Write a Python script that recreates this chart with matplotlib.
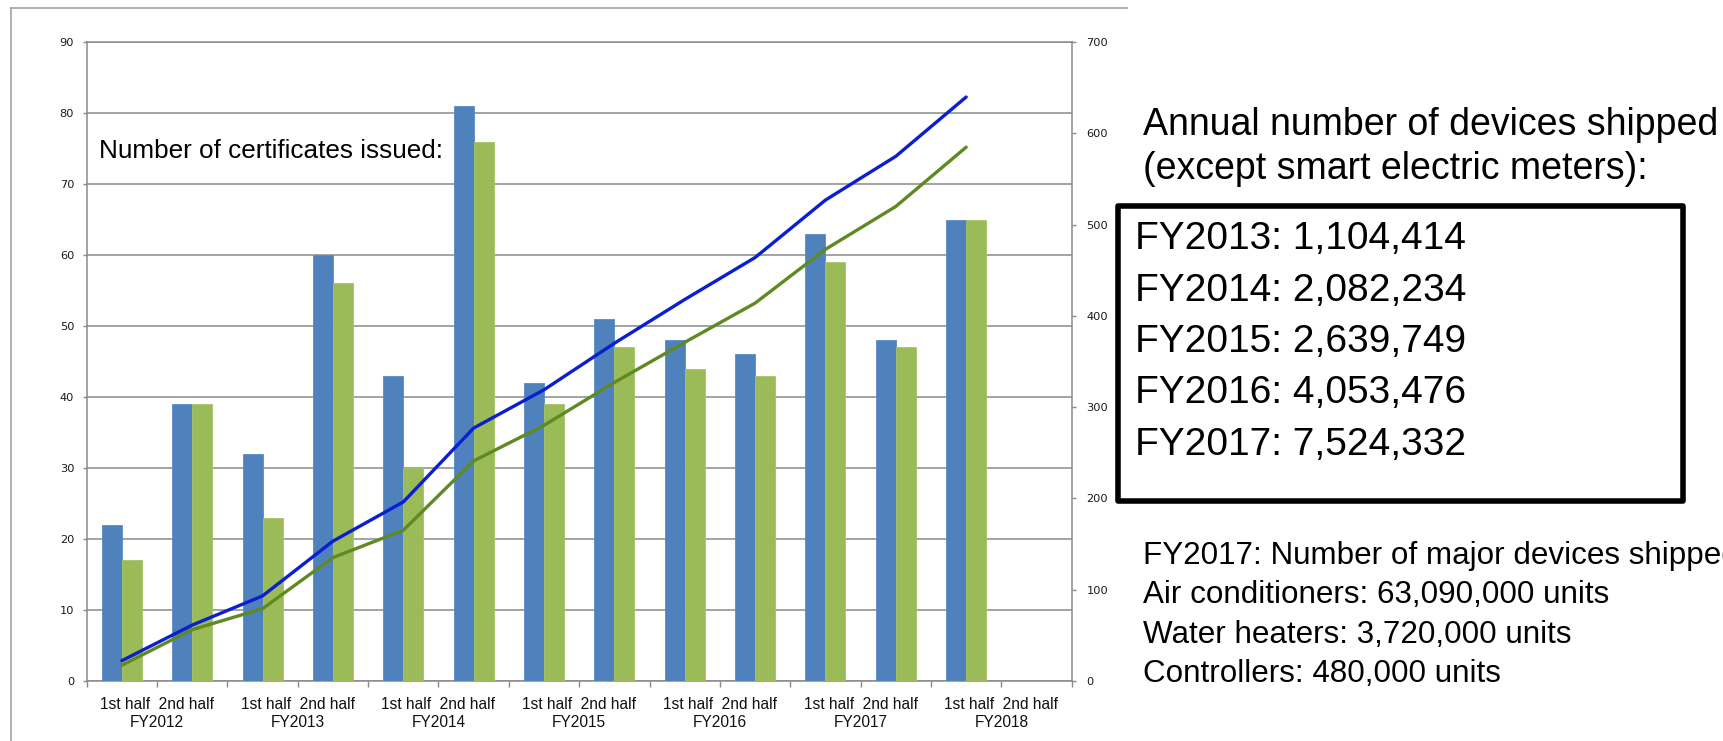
import matplotlib
matplotlib.use("Agg")
import matplotlib.pyplot as plt
from matplotlib.patches import Rectangle
from matplotlib.lines import Line2D
import numpy as np

# ---------------- data ----------------
years = ["FY2012", "FY2013", "FY2014", "FY2015", "FY2016", "FY2017", "FY2018"]
half_label = "1st half  2nd half"
blue_bars = [22, 39, 32, 60, 43, 81, 42, 51, 48, 46, 63, 48, 65]
green_bars = [17, 39, 23, 56, 30, 76, 39, 47, 44, 43, 59, 47, 65]
blue_line = [22, 61, 93, 153, 196, 277, 319, 370, 418, 464, 527, 575, 640]
green_line = [17, 56, 79, 135, 165, 241, 280, 327, 371, 414, 473, 520, 585]
left_ticks = [0, 10, 20, 30, 40, 50, 60, 70, 80, 90]
right_ticks = [0, 100, 200, 300, 400, 500, 600, 700]
chart_note = "Number of certificates issued:"
heading = ["Annual number of devices shipped", "(except smart electric meters):"]
box_lines = ["FY2013: 1,104,414", "FY2014: 2,082,234", "FY2015: 2,639,749",
             "FY2016: 4,053,476", "FY2017: 7,524,332"]
bottom_lines = ["FY2017: Number of major devices shipped",
                "Air conditioners: 63,090,000 units",
                "Water heaters: 3,720,000 units",
                "Controllers: 480,000 units"]

# ---------------- style ----------------
W, H = 1724, 741
def fx(px): return px / W
def fy(py): return 1 - py / H

SANS = ["Liberation Sans", "DejaVu Sans"]
plt.rcParams["font.family"] = SANS
GRID = "#8a8a8a"
BLUE = "#4f81bd"
GREEN = "#9bbb59"
BLUE_L = "#0a1fd0"
GREEN_L = "#5f8a22"

fig = plt.figure(figsize=(W / 100, H / 100), dpi=100)
fig.patch.set_facecolor("white")

x0, x1, y_top, y_bot = 86.7, 1071.7, 42.3, 680.7
ax = fig.add_axes([fx(x0), fy(y_bot), (x1 - x0) / W, (y_bot - y_top) / H])
ax2 = ax.twinx()

n_cat = 14
x = np.arange(len(blue_bars))
bw = 0.284
ax.bar(x - bw / 2, blue_bars, width=bw, color=BLUE, edgecolor="#5a8ac6", linewidth=0.6, zorder=3)
ax.bar(x + bw / 2, green_bars, width=bw, color=GREEN, edgecolor="#a5c466", linewidth=0.6, zorder=3)
ax.set_xlim(-0.5, n_cat - 0.5)
ax.set_ylim(0, 90)
ax.set_yticks(left_ticks)
ax.set_yticklabels([str(v) for v in left_ticks], family="DejaVu Sans", fontsize=8.2, color="#1a1a1a")
ax.yaxis.grid(True, color=GRID, linewidth=1.1, zorder=0)
ax.set_axisbelow(True)
ax.tick_params(axis="y", length=3, width=1, color=GRID, pad=6)

for s in ax.spines.values():
    s.set_color(GRID)
    s.set_linewidth(1.1)

ax2.set_ylim(0, 700)
ax2.plot(x, blue_line, color=BLUE_L, linewidth=2.4, solid_capstyle="round", zorder=5)
ax2.plot(x, green_line, color=GREEN_L, linewidth=2.4, solid_capstyle="round", zorder=5)
ax2.set_yticks(right_ticks)
ax2.set_yticklabels([str(v) for v in right_ticks], family="DejaVu Sans", fontsize=8.2, color="#1a1a1a")
ax2.tick_params(axis="y", length=3, width=1, color=GRID, pad=7.5)
for s in ax2.spines.values():
    s.set_visible(False)

# x ticks: boundaries (major) and year labels (minor)
ax.xaxis.remove_overlapping_locs = False
ax.set_xticks(np.arange(-0.5, n_cat, 1.0))
ax.set_xticks(np.arange(0.5, n_cat, 2.0), minor=True)
ax.set_xticklabels([""] * (n_cat + 1))
ax.set_xticklabels([f"{half_label}\n{y}" for y in years], minor=True, fontsize=11.2,
                   color="#111111", linespacing=1.2)
ax.tick_params(axis="x", which="major", length=4.5, width=1, color=GRID, direction="out")
ax.tick_params(axis="x", which="minor", length=0, pad=12)

# outer chart frame (top and left edges)
fig.add_artist(Line2D([fx(10.7), fx(1126.7)], [fy(8.3), fy(8.3)], color="#9a9a9a", linewidth=1.1))
fig.add_artist(Line2D([fx(10.7), fx(10.7)], [fy(8.3), fy(741)], color="#9a9a9a", linewidth=1.1))

# annotations
fig.text(fx(99.3), fy(158), chart_note, fontsize=18.8, color="black", va="baseline", ha="left")

fig.text(fx(1143), fy(135), heading[0], fontsize=27, color="black", va="baseline", ha="left")
fig.text(fx(1143), fy(179), heading[1], fontsize=27, color="black", va="baseline", ha="left")

box = Rectangle((fx(1117.5), fy(500.5)), (1682.5 - 1117.5) / W, (500.5 - 206.3) / H,
                transform=fig.transFigure, fill=False, edgecolor="black", linewidth=4,
                joinstyle="round")
fig.add_artist(box)
for i, t in enumerate(box_lines):
    fig.text(fx(1135), fy(249.3 + 51.4 * i), t, fontsize=28, color="black",
             va="baseline", ha="left")

for i, t in enumerate(bottom_lines):
    fig.text(fx(1143.5), fy(564 + 39.3 * i), t, fontsize=22.6, color="black",
             va="baseline", ha="left")

fig.savefig("out.png", dpi=100, facecolor="white")
